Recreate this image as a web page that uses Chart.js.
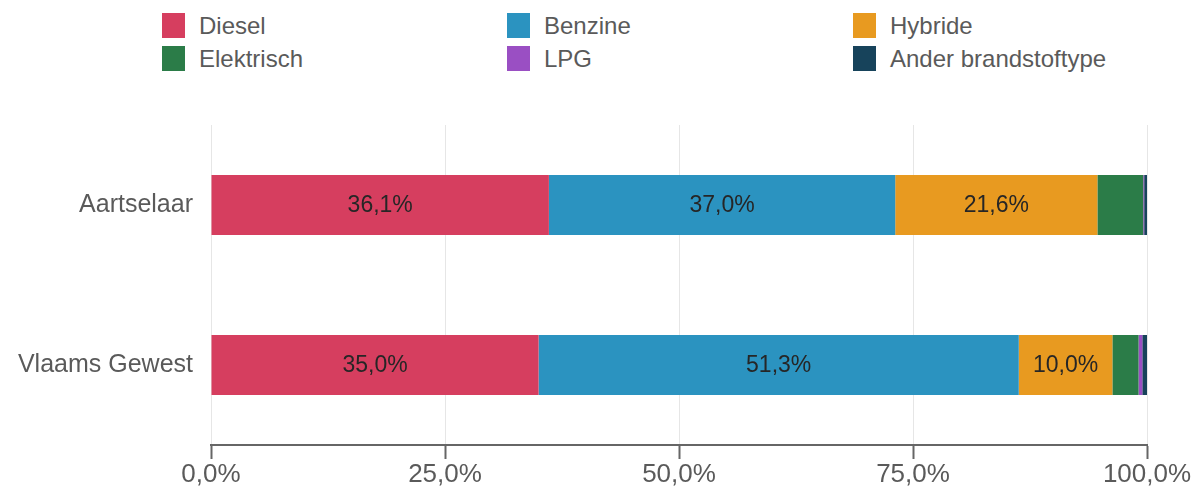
<!DOCTYPE html>
<html><head><meta charset="utf-8">
<script src="https://cdn.jsdelivr.net/npm/chart.js@4/dist/chart.umd.min.js"></script>
<style>
html,body{margin:0;padding:0;background:#fff;}
#wrap{position:relative;width:1202px;height:491px;}
#legend{position:absolute;left:0;top:0;width:1202px;height:80px;font-family:"Liberation Sans",Arial,sans-serif;font-size:24px;color:#5a5a5a;}
.li{position:absolute;display:flex;align-items:center;height:25px;}
.sw{width:23px;height:25px;margin-right:14px;}
canvas{position:absolute;left:0;top:0;}
</style></head><body>
<div id="wrap"><div id="legend"></div><canvas id="c" width="1202" height="491"></canvas></div>
<script>
const categories = ["Aartselaar", "Vlaams Gewest"];
const seriesNames = ["Diesel", "Benzine", "Hybride", "Elektrisch", "LPG", "Ander brandstoftype"];
const diesel = [36.1, 35.0];
const benzine = [37.0, 51.3];
const hybride = [21.6, 10.0];
const elektrisch = [4.9, 2.8];
const lpg = [0.1, 0.4];
const ander = [0.3, 0.5];
const xTicks = [0, 25, 50, 75, 100];
const colors = ["#d63e5f", "#2b93c0", "#e89a20", "#2b7c48", "#9a4fc3", "#17435b"];
const seriesValues = [diesel, benzine, hybride, elektrisch, lpg, ander];
const showLabel = [true, true, true, false, false, false];

const FONT = '"Liberation Sans", Arial, sans-serif';
const fmt = v => v.toFixed(1).replace('.', ',') + '%';

// HTML legend in 3 columns
const legend = document.getElementById('legend');
const colX = [162, 507, 853], rowY = [13, 46];
seriesNames.forEach((n, i) => {
  const d = document.createElement('div');
  d.className = 'li';
  d.style.left = colX[i % 3] + 'px';
  d.style.top = rowY[Math.floor(i / 3)] + 'px';
  d.innerHTML = '<div class="sw" style="background:' + colors[i] + '"></div><span>' + n + '</span>';
  legend.appendChild(d);
});

const labelPlugin = {
  id: 'barLabels',
  afterDatasetsDraw(chart) {
    const ctx = chart.ctx;
    ctx.save();
    ctx.font = '23px ' + FONT;
    ctx.fillStyle = '#262626';
    ctx.textAlign = 'center';
    ctx.textBaseline = 'middle';
    chart.data.datasets.forEach((ds, di) => {
      if (!showLabel[di]) return;
      chart.getDatasetMeta(di).data.forEach((bar, j) => {
        const x = (bar.x + bar.base) / 2;
        ctx.fillText(fmt(ds.data[j]), x, bar.y + 1);
      });
    });
    ctx.restore();
  }
};

new Chart(document.getElementById('c'), {
  type: 'bar',
  data: {
    labels: categories,
    datasets: seriesNames.map((n, i) => ({
      label: n,
      data: seriesValues[i],
      backgroundColor: colors[i],
      borderWidth: 0,
      barPercentage: 0.375,
      categoryPercentage: 1.0
    }))
  },
  options: {
    indexAxis: 'y',
    responsive: false,
    animation: false,
    layout: { padding: { top: 125, right: 55, left: 0, bottom: 0 } },
    plugins: { legend: { display: false }, tooltip: { enabled: false } },
    scales: {
      x: {
        stacked: true,
        min: 0, max: 100,
        afterBuildTicks: ax => { ax.ticks = xTicks.map(v => ({ value: v })); },
        afterFit: ax => { ax.height = 46; },
        grid: { color: '#e6e6e6', lineWidth: 1, drawTicks: true, tickLength: 14, tickColor: '#666', tickWidth: 2 },
        border: { display: true, color: '#666', width: 2 },
        ticks: { padding: 0, color: '#5a5a5a', font: { family: FONT, size: 26 }, callback: v => fmt(v), maxRotation: 0 }
      },
      y: {
        stacked: true,
        afterFit: ax => { ax.width = 211; },
        grid: { display: false, drawTicks: false },
        border: { display: false },
        ticks: { padding: 18, color: '#5a5a5a', font: { family: FONT, size: 25 } }
      }
    }
  },
  plugins: [labelPlugin]
});
</script></body></html>
